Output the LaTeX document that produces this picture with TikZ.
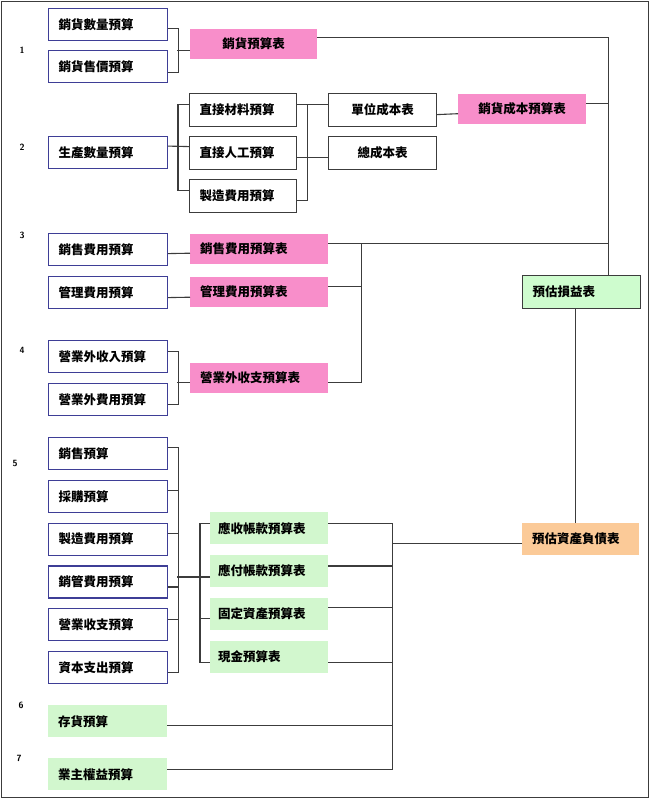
\documentclass[tikz,border=0pt]{standalone}
\usepackage{fontspec}
\newfontfamily\cjk{Noto Sans CJK TC}
\usepackage{xcolor}
\usetikzlibrary{positioning}

\definecolor{budblue}{RGB}{62,62,150}
\definecolor{linegray}{RGB}{60,60,60}
\definecolor{pinkfill}{RGB}{248,142,202}
\definecolor{sumgreen}{RGB}{210,247,206}
\definecolor{plgreen}{RGB}{206,252,206}
\definecolor{bsorange}{RGB}{251,202,152}

\tikzset{
  every node/.style={font=\cjk\bfseries\fontsize{12.5}{14}\selectfont},
  budbox/.style={draw=budblue, line width=1.2pt, fill=white, inner xsep=10pt, text width=99pt, minimum height=32pt, align=left, anchor=north west},
  costbox/.style={draw=linegray, line width=1.2pt, fill=white, inner xsep=10pt, text width=#1, minimum height=33pt, anchor=north west},
  pinkbox/.style={fill=pinkfill, inner xsep=10pt, text width=#1, minimum height=30pt, anchor=north west},
  sumbox/.style={fill=sumgreen, inner xsep=8pt, text width=102pt, minimum height=32pt, align=left, anchor=north west},
  link/.style={draw=linegray, line width=1.1pt},
  grpnum/.style={font=\sffamily\bfseries\fontsize{9}{10}\selectfont}
}

\begin{document}
\begin{tikzpicture}[x=1pt, y=-1pt]
  \useasboundingbox (0,0) rectangle (650,799);
  \draw[linegray, line width=1.6pt] (1.5,1.5) rectangle (648.5,797.5);

  % group numbers
  \node[grpnum] (n1) at (22,50) {1};
  \node[grpnum] (n2) at (22,147) {2};
  \node[grpnum] (n3) at (22,235) {3};
  \node[grpnum] (n4) at (22,350) {4};
  \node[grpnum] (n5) at (15,463) {5};
  \node[grpnum] (n6) at (21,705) {6};
  \node[grpnum] (n7) at (19,758) {7};

  % 1
  \node[budbox] (sq) at (48,8) {銷貨數量預算};
  \node[budbox] (sp) at (48,50) {銷貨售價預算};
  \node[pinkbox=107pt, align=center] (st) at (190,29) {銷貨預算表};

  % 2
  \node[budbox] (pq) at (48,136) {生產數量預算};
  \node[costbox=87pt, align=left] (dm) at (189,93) {直接材料預算};
  \node[costbox=87pt, align=left, below=8.8pt of dm.south west, anchor=north west] (dl) {直接人工預算};
  \node[costbox=87pt, align=left, below=8.8pt of dl.south west, anchor=north west] (mo) {製造費用預算};
  \node[costbox=88pt, align=center] (uc) at (328,93) {單位成本表};
  \node[costbox=88pt, align=center, below=8.8pt of uc.south west, anchor=north west] (tc) {總成本表};
  \node[pinkbox=108pt, align=center] (sc) at (458,94) {銷貨成本預算表};

  % 3
  \node[budbox] (se) at (48,233) {銷售費用預算};
  \node[budbox] (ge) at (48,276) {管理費用預算};
  \node[pinkbox=118pt, align=left] (sx) at (190,234) {銷售費用預算表};
  \node[pinkbox=118pt, align=left] (gx) at (190,277) {管理費用預算表};

  % 4
  \node[budbox] (oi) at (48,340) {營業外收入預算};
  \node[budbox] (oe) at (48,383) {營業外費用預算};
  \node[pinkbox=118pt, align=left] (ox) at (190,363) {營業外收支預算表};

  % 5
  \node[budbox] (s1) at (48,437) {銷售預算};
  \node[budbox, below=9.6pt of s1.south west, anchor=north west] (s2) {採購預算};
  \node[budbox, below=9.6pt of s2.south west, anchor=north west] (s3) {製造費用預算};
  \node[budbox, below=9.6pt of s3.south west, anchor=north west] (s4) {銷管費用預算};
  \node[budbox, below=9.6pt of s4.south west, anchor=north west] (s5) {營業收支預算};
  \node[budbox, below=9.6pt of s5.south west, anchor=north west] (s6) {資本支出預算};
  \node[sumbox] (ar) at (210,512) {應收帳款預算表};
  \node[sumbox, below=10.4pt of ar.south west, anchor=north west] (ap) {應付帳款預算表};
  \node[sumbox, below=10.4pt of ap.south west, anchor=north west] (fa) {固定資產預算表};
  \node[sumbox, below=10.4pt of fa.south west, anchor=north west] (cs) {現金預算表};

  % 6, 7
  \node[sumbox, inner xsep=10pt, text width=99pt] (inv) at (48,705) {存貨預算};
  \node[sumbox, inner xsep=10pt, text width=99pt] (eq) at (48,758) {業主權益預算};

  % statements
  \node[costbox=98pt, align=left, fill=plgreen] (pl) at (522,275) {預估損益表};
  \node[sumbox, fill=bsorange, inner xsep=10pt, text width=97pt] (bs) at (522,523) {預估資產負債表};
  \coordinate (bus) at ([xshift=27pt]pl.north);
  \coordinate (j34) at ([xshift=33pt,yshift=6pt]sx.east);

  % links 1
  \draw[link] ([yshift=-3.5pt]sq.east) -- ++(10,0) |- ([yshift=-5.5pt]sp.east);
  \draw[link] ([yshift=-6pt]st.west) -- ++(-13,0);
  \draw[link] ([yshift=6.5pt]st.east) -| (bus);

  % links 2
  \draw[link] ([yshift=6.5pt]pq.east) -- ([yshift=6.5pt]dl.west);
  \draw[link] ([yshift=5.5pt]dm.west) -- ++(-11,0) |- ([yshift=5.5pt]mo.west);
  \draw[link] ([yshift=5.5pt]dm.east) -- ([yshift=5.5pt]uc.west);
  \draw[link] ([yshift=5.5pt]dm.east) -- ++(10,0) |- ([yshift=-4.5pt]mo.east);
  \draw[link] ([yshift=-4.5pt]dl.east) -- ([yshift=-4.5pt]tc.west);
  \draw[link] ([yshift=-4.5pt]uc.east) -- ([yshift=-4.5pt]sc.west);
  \draw[link] ([yshift=5.5pt]sc.east) -| (bus);

  % links 3, 4
  \draw[link] ([yshift=-4pt]se.east) -- ([yshift=-4pt]sx.west);
  \draw[link] ([yshift=-5pt]ge.east) -- ([yshift=-5pt]gx.west);
  \draw[link] ([yshift=6pt]sx.east) -| (bus);
  \draw[link] ([yshift=6pt]gx.east) -| (j34);
  \draw[link] ([yshift=-4pt]ox.east) -| (j34);
  \draw[link] ([yshift=5pt]oi.east) -- ++(10,0) |- ([yshift=-5pt]oe.east);
  \draw[link] ([yshift=-4pt]ox.west) -- ++(-13,0);

  % links 5
  \draw[link] ([yshift=6pt]s1.east) -- ++(10,0) |- ([yshift=-5pt]s6.east);
  \foreach \n/\s in {s2/6, s3/6, s4/-5, s5/5}
    \draw[link] ([yshift=\s pt]\n.east) -- ++(10,0);
  \draw[link] ([yshift=-6pt]ap.west) -- ++(-33,0);
  \draw[link] ([yshift=5pt]ar.west) -- ++(-10,0) |- ([yshift=-6pt]cs.west);
  \draw[link] ([yshift=-5pt]fa.west) -- ++(-10,0);
  \draw[link] ([yshift=5pt]ar.east) -- ++(64,0) |- ([yshift=5pt]eq.east);
  \foreach \n/\s in {ap/5, fa/6, cs/-6}
    \draw[link] ([yshift=\s pt]\n.east) -- ++(64,0);
  \draw[link] ([yshift=-4pt]inv.east) -- ++(225,0);
  \draw[link] ([yshift=-4pt]bs.west) -- ++(-130,0);
  \draw[link] ([xshift=-6pt]pl.south) -- ([xshift=-6pt]pl.south |- bs.north);
\end{tikzpicture}
\end{document}
